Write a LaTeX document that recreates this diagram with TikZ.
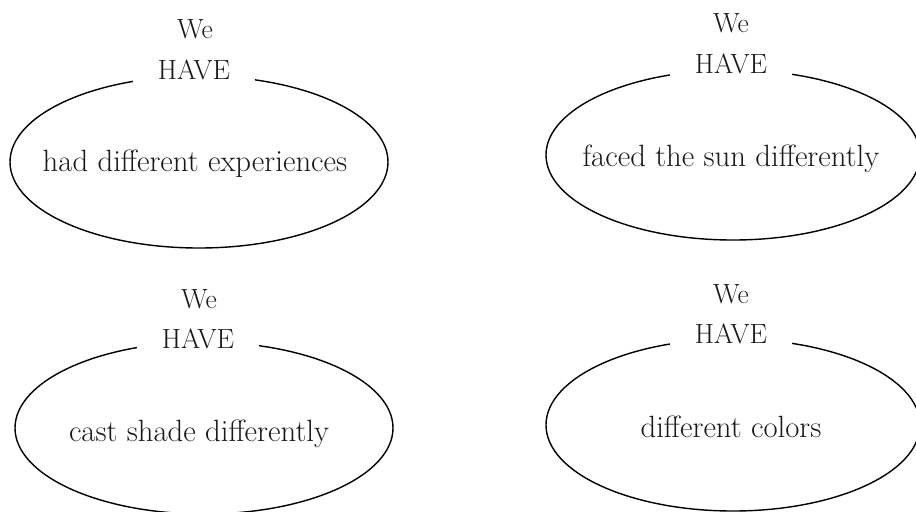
\documentclass[tikz,border=0pt]{standalone}
\usetikzlibrary{shapes.geometric}

\tikzset{
  bubble/.style={draw, ellipse, line width=0.8pt, inner sep=0pt,
    minimum width=7.56cm, minimum height=3.44cm},
  saying/.style={anchor=base, inner sep=0pt, text=black!90,
    font=\fontsize{15.8}{18}\selectfont},
  inside/.style={saying, font=\fontsize{17.5}{20}\selectfont},
  verb/.style={saying, fill=white, inner xsep=0.5cm, inner ysep=4pt}
}

\begin{document}
\begin{tikzpicture}
   [x=0.2mm,y=-0.2mm]

   \clip (0,0) rectangle (916,511);

   % the four bubbles
   \node[bubble] (b1) at (199,162) {};
   \node[bubble, minimum width=7.48cm, minimum height=3.4cm] (b2) at (733,155) {};
   \node[bubble] (b3) at (204,428) {};
   \node[bubble, minimum width=7.48cm] (b4) at (733,425) {};

   % what is inside
   \node[inside] (t1) at (195,171) {had different experiences};
   \node[inside] (t2) at (731,166) {faced the sun differently};
   \node[inside] (t3) at (199,441) {cast shade differently};
   \node[inside] (t4) at (731,437) {different colors};

   % the verb breaks the top of each bubble
   \node[verb] (h1) at (194,79) {HAVE};
   \node[verb] (h2) at (731,73) {HAVE};
   \node[verb] (h3) at (198,348) {HAVE};
   \node[verb] (h4) at (731,343) {HAVE};

   \node[saying] (w1) at (195,38) {We};
   \node[saying] (w2) at (731,32) {We};
   \node[saying] (w3) at (199,308) {We};
   \node[saying] (w4) at (731,303) {We};
 \end{tikzpicture}
\end{document}
